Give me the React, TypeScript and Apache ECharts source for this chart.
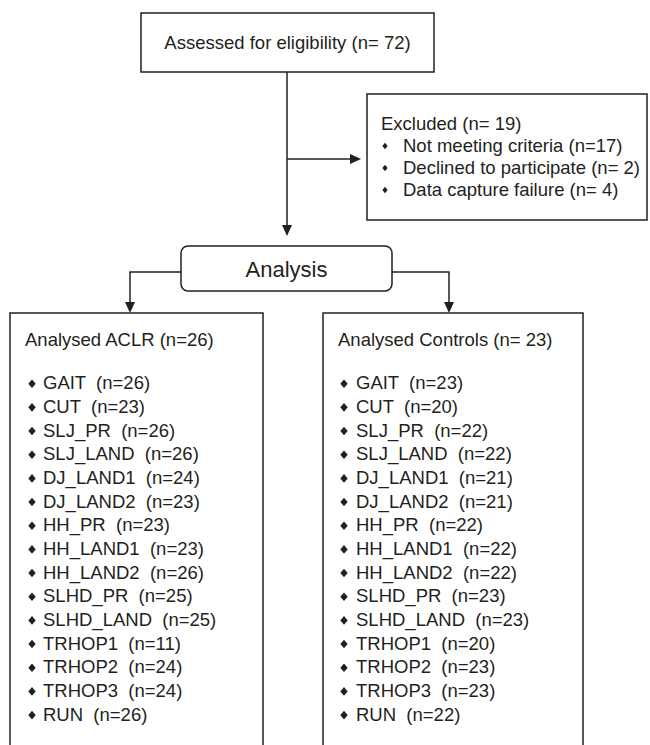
import React, { useEffect, useRef } from "react";
import * as echarts from "echarts";

// ---- Data ----
const screeningLabel = "Assessed for eligibility (n= 72)";
const excludedTitle = "Excluded (n= 19)";
const exclusionReasons = [
  "Not meeting criteria (n=17)",
  "Declined to participate (n= 2)",
  "Data capture failure (n= 4)",
];
const analysisLabel = "Analysis";
const aclrTitle = "Analysed ACLR (n=26)";
const controlTitle = "Analysed Controls (n= 23)";
const tasks = [
  "GAIT",
  "CUT",
  "SLJ_PR",
  "SLJ_LAND",
  "DJ_LAND1",
  "DJ_LAND2",
  "HH_PR",
  "HH_LAND1",
  "HH_LAND2",
  "SLHD_PR",
  "SLHD_LAND",
  "TRHOP1",
  "TRHOP2",
  "TRHOP3",
  "RUN",
];
const aclrN = [26, 23, 26, 26, 24, 23, 23, 23, 26, 25, 25, 11, 24, 24, 26];
const controlN = [23, 20, 22, 22, 21, 21, 22, 22, 22, 23, 23, 20, 23, 23, 22];

// ---- Styles ----
const INK = "#231f20";
const LW = 1.5;
const FONT = '"Liberation Sans", Arial, Helvetica, sans-serif';
const FS = 18.5;

function txt(text: string, x: number, y: number, size = FS, align = "left") {
  return {
    type: "text",
    silent: true,
    style: {
      text,
      x,
      y,
      fill: INK,
      fontSize: size,
      fontFamily: FONT,
      align,
      verticalAlign: "middle",
    },
  };
}

function diamond(cx: number, cy: number, hw: number, hh: number) {
  return {
    type: "polygon",
    silent: true,
    shape: {
      points: [
        [cx, cy - hh],
        [cx + hw, cy],
        [cx, cy + hh],
        [cx - hw, cy],
      ],
    },
    style: { fill: INK, stroke: "none" },
  };
}

function box(x: number, y: number, w: number, h: number, r = 0) {
  return {
    type: "rect",
    silent: true,
    shape: { x, y, width: w, height: h, r },
    style: { fill: "#ffffff", stroke: INK, lineWidth: LW },
  };
}

function line(points: number[][]) {
  return {
    type: "polyline",
    silent: true,
    shape: { points },
    style: { fill: "none", stroke: INK, lineWidth: LW },
  };
}

function arrowDown(x: number, tipY: number) {
  return {
    type: "polygon",
    silent: true,
    shape: {
      points: [
        [x - 5, tipY - 11],
        [x + 5, tipY - 11],
        [x, tipY],
      ],
    },
    style: { fill: INK, stroke: "none" },
  };
}

function arrowRight(tipX: number, y: number) {
  return {
    type: "polygon",
    silent: true,
    shape: {
      points: [
        [tipX - 11, y - 5],
        [tipX - 11, y + 5],
        [tipX, y],
      ],
    },
    style: { fill: INK, stroke: "none" },
  };
}

function buildGraphics() {
  const els: any[] = [];

  // top box
  els.push(box(141, 13, 293, 59));
  els.push(txt(screeningLabel, 287.5, 42, FS, "center"));

  // main vertical arrow
  els.push(line([[287, 72], [287, 228]]));
  els.push(arrowDown(287, 236));

  // side arrow to excluded
  els.push(line([[287, 159], [354, 159]]));
  els.push(arrowRight(361, 159));

  // excluded box
  els.push(box(367, 94, 280, 126));
  els.push(txt(excludedTitle, 381, 123));
  exclusionReasons.forEach((r, i) => {
    const y = 145 + i * 22;
    els.push(diamond(385, y + 1, 2.6, 3.3));
    els.push(txt(r, 403, y));
  });

  // analysis box
  els.push(line([[181, 272], [130, 272], [130, 304]]));
  els.push(arrowDown(130, 313));
  els.push(line([[392, 272], [449, 272], [449, 304]]));
  els.push(arrowDown(449, 313));
  els.push(box(181, 246, 211, 45, 7));
  els.push(txt(analysisLabel, 286.5, 269, 22, "center"));

  // left (ACLR) box
  els.push(box(10, 313, 253, 500));
  els.push(txt(aclrTitle, 25, 339));
  tasks.forEach((t, i) => {
    const y = 382.7 + i * 23.67;
    els.push(diamond(32, y + 1, 3.7, 4.3));
    els.push(txt(`${t}  (n=${aclrN[i]})`, 43, y));
  });

  // right (Controls) box
  els.push(box(323, 313, 260, 500));
  els.push(txt(controlTitle, 338, 339));
  tasks.forEach((t, i) => {
    const y = 382.7 + i * 23.67;
    els.push(diamond(344, y + 1, 3.7, 4.3));
    els.push(txt(`${t}  (n=${controlN[i]})`, 356, y));
  });

  return els;
}

export default function App() {
  const ref = useRef<HTMLDivElement>(null);
  useEffect(() => {
    if (!ref.current) return;
    const chart = echarts.init(ref.current, undefined, { renderer: "svg" });
    chart.setOption({
      animation: false,
      backgroundColor: "#ffffff",
      graphic: { elements: buildGraphics() },
    });
    return () => chart.dispose();
  }, []);
  return (
    <div
      ref={ref}
      style={{
        position: "fixed",
        left: 0,
        top: 0,
        width: 650,
        height: 745,
        background: "#ffffff",
      }}
    />
  );
}
